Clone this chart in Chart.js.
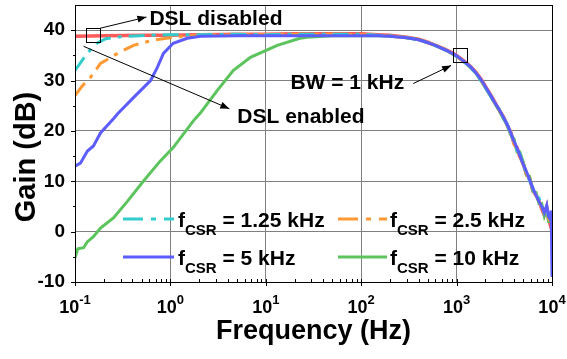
<!DOCTYPE html>
<html>
<head>
<meta charset="utf-8">
<script src="https://cdn.jsdelivr.net/npm/chart.js@4.4.1/dist/chart.umd.min.js"></script>
<style>
  html, body { margin: 0; padding: 0; background: #fff; }
</style>
</head>
<body>
<canvas id="gainChart" width="567" height="359"></canvas>
<script>
const FONT = "'Liberation Sans', Arial, sans-serif";

const decades = [0.1, 1, 10, 100, 1000, 10000];
const decadeExp = ['-1', '0', '1', '2', '3', '4'];
const gainTicks = [-10, 0, 10, 20, 30, 40];

// shared roll-off frequencies (Hz)
const fHigh = [150, 200, 300, 400, 500, 600, 700, 800, 900, 1000, 1100, 1250, 1400, 1600, 1800, 2000, 2250, 2500, 2800, 3100, 3400, 3700, 4000, 4300, 4600, 5000, 5400, 5800, 6300, 6800, 7300, 7800, 8300, 8800, 9200, 9600, 9800, 10000];

// DSL disabled
const fOffLow = [0.1, 0.2, 0.5, 1, 2, 5, 10, 20, 50, 100];
const gOffLow = [38.8, 38.9, 39.0, 39.0, 39.1, 39.2, 39.2, 39.3, 39.3, 39.3];
const gOffHigh = [39.1, 39.0, 38.6, 38.2, 37.6, 37.0, 36.5, 36.0, 35.5, 35.0, 34.4, 33.6, 32.8, 31.6, 30.3, 28.9, 27.3, 25.8, 24.1, 22.8, 21.1, 19.7, 17.5, 16.7, 14.9, 13.5, 11.3, 10.8, 8.1, 7.3, 6.1, 4.5, 3.3, 4.9, 2.5, 1.3, 3.1, 0.9];

// fCSR = 1.25 kHz
const f125Low = [0.1, 0.114, 0.135, 0.17, 0.21, 0.3, 0.6, 1, 2, 5, 10, 20, 50, 100];
const g125Low = [32.0, 33.5, 35.5, 37.4, 38.3, 38.7, 39.0, 39.1, 39.1, 39.2, 39.1, 39.2, 39.2, 39.2];
const g125High = [39.0, 38.9, 38.5, 38.1, 37.5, 36.9, 36.4, 35.9, 35.3, 34.8, 34.3, 33.4, 32.7, 31.4, 30.0, 28.6, 27.1, 25.6, 24.3, 22.5, 21.4, 19.3, 17.9, 16.1, 15.5, 12.9, 11.9, 10.1, 8.7, 6.7, 6.7, 5.3, 3.9, 4.5, 2.9, 2.1, 2.5, 1.5];

// fCSR = 2.5 kHz
const f25Low = [0.1, 0.12, 0.145, 0.185, 0.28, 0.41, 0.66, 1.07, 2, 5, 10, 20, 50, 100];
const g25Low = [27.0, 29.0, 30.6, 33.4, 35.4, 37.0, 38.0, 38.6, 39.0, 39.1, 39.1, 39.2, 39.2, 39.1];
const g25High = [39.0, 38.8, 38.5, 38.1, 37.5, 37.0, 36.4, 35.9, 35.4, 34.9, 34.2, 33.5, 32.6, 31.6, 30.1, 28.8, 27.1, 25.7, 24.1, 22.7, 21.2, 19.7, 17.3, 16.5, 14.7, 13.3, 11.5, 10.3, 8.5, 7.1, 6.3, 4.7, 3.7, 4.3, 2.7, 1.7, 2.1, 1.1];

// fCSR = 5 kHz
const f5Low = [0.1, 0.114, 0.135, 0.156, 0.185, 0.253, 0.28, 0.41, 0.62, 0.73, 0.845, 1.07, 1.5, 2.07, 5, 10, 20, 50, 100];
const g5Low = [13.0, 13.6, 16.0, 17.0, 19.6, 22.4, 23.4, 26.6, 30.0, 32.6, 35.4, 37.4, 38.4, 38.8, 38.9, 38.9, 38.9, 38.9, 38.9];
const g5High = [38.9, 38.8, 38.5, 38.1, 37.5, 37.0, 36.4, 35.9, 35.4, 34.9, 34.3, 33.5, 32.7, 31.5, 30.2, 28.8, 27.2, 25.7, 24.2, 22.7, 21.2, 19.6, 17.9, 16.6, 15.2, 13.3, 11.9, 10.4, 8.6, 7.2, 6.0, 5.0, 3.8, 5.2, 3.0, 2.4, 4.2, -9.0];

// fCSR = 10 kHz
const f10Low = [0.1, 0.107, 0.123, 0.135, 0.156, 0.185, 0.253, 0.354, 0.52, 0.78, 1.07, 1.74, 2.07, 3.09, 4.55, 6.9, 13.2, 22.8, 27, 50, 100];
const g10Low = [-5.2, -3.4, -3.2, -2.0, -1.0, 0.7, 2.7, 6.0, 10.0, 14.0, 16.7, 22.0, 23.6, 28.0, 32.0, 34.6, 37.0, 38.4, 38.6, 38.9, 38.9];
const g10High = [38.9, 38.8, 38.5, 38.1, 37.5, 37.0, 36.4, 35.9, 35.3, 34.8, 34.2, 33.4, 32.5, 31.4, 29.9, 28.6, 27.0, 25.5, 24.0, 22.4, 21.0, 19.2, 18.4, 15.8, 15.8, 13.8, 11.2, 11.0, 8.0, 7.8, 5.6, 5.6, 3.2, 4.8, 2.0, 2.0, 3.4, 0.4];

const legendItems = [
    { label: '1.25 kHz', color: '#33cccc', dash: [20, 8, 5, 8] },
    { label: '2.5 kHz', color: '#ff9933', dash: [20, 8, 5, 8] },
    { label: '5 kHz', color: '#5c5cff', dash: [] },
    { label: '10 kHz', color: '#5cc45c', dash: [] }
];

const points = (f, g) => f.map((v, i) => ({ x: v, y: g[i] }));
const bold = (size) => 'bold ' + size + 'px ' + FONT;

const arrow = (ctx, x1, y1, x2, y2) => {
    const ang = Math.atan2(y2 - y1, x2 - x1);
    ctx.beginPath();
    ctx.moveTo(x1, y1);
    ctx.lineTo(x2, y2);
    ctx.stroke();
    ctx.beginPath();
    ctx.moveTo(x2, y2);
    ctx.lineTo(x2 - 9 * Math.cos(ang) + 3.5 * Math.sin(ang), y2 - 9 * Math.sin(ang) - 3.5 * Math.cos(ang));
    ctx.lineTo(x2 - 9 * Math.cos(ang) - 3.5 * Math.sin(ang), y2 - 9 * Math.sin(ang) + 3.5 * Math.cos(ang));
    ctx.closePath();
    ctx.fill();
};

const decor = {
    id: 'decor',
    afterDraw: (chart) => {
        const { ctx, chartArea: a, scales: { x, y } } = chart;
        const px = (f) => x.getPixelForValue(f);
        const py = (g) => y.getPixelForValue(g);
        ctx.save();
        ctx.strokeStyle = '#000';
        ctx.fillStyle = '#000';
        ctx.lineWidth = 1;

        // frame
        ctx.strokeRect(a.left + 0.5, a.top + 0.5, a.right - a.left, a.bottom - a.top);

        // tick marks
        ctx.beginPath();
        decades.forEach((d, i) => {
            const xp = Math.round(px(d)) + 0.5;
            ctx.moveTo(xp, a.bottom - 3);
            ctx.lineTo(xp, a.bottom + 4);
            if (i < decades.length - 1) {
                for (let m = 2; m <= 9; m++) {
                    const xm = Math.round(px(d * m)) + 0.5;
                    ctx.moveTo(xm, a.bottom - 3);
                    ctx.lineTo(xm, a.bottom);
                }
            }
        });
        gainTicks.forEach((g) => {
            const yp = Math.round(py(g)) + 0.5;
            ctx.moveTo(a.left - 4, yp);
            ctx.lineTo(a.left, yp);
            if (g < 40) {
                const ym = Math.round(py(g + 5)) + 0.5;
                ctx.moveTo(a.left - 2, ym);
                ctx.lineTo(a.left, ym);
            }
        });
        ctx.stroke();

        // x tick labels 10^n
        ctx.textBaseline = 'alphabetic';
        ctx.textAlign = 'left';
        decades.forEach((d, i) => {
            ctx.font = bold(18);
            const wBase = ctx.measureText('10').width;
            ctx.font = bold(13);
            const wExp = ctx.measureText(decadeExp[i]).width;
            const x0 = px(d) - (wBase + wExp) / 2;
            ctx.font = bold(18);
            ctx.fillText('10', x0, a.bottom + 31);
            ctx.font = bold(13);
            ctx.fillText(decadeExp[i], x0 + wBase, a.bottom + 22);
        });

        // y title
        ctx.save();
        ctx.translate(27, 157);
        ctx.rotate(-Math.PI / 2);
        ctx.font = bold(29);
        ctx.textAlign = 'center';
        ctx.textBaseline = 'middle';
        ctx.fillText('Gain (dB)', 0, 0);
        ctx.restore();

        // annotations
        const box = (f, g) => ctx.strokeRect(Math.round(px(f)) - 7 + 0.5, Math.round(py(g)) - 7 + 0.5, 14, 14);
        box(0.156, 39);
        box(1090, 35);
        arrow(ctx, px(0.185), py(40.4), px(0.561), py(42.6));
        arrow(ctx, px(0.123), py(36.8), px(4.15), py(24.4));
        arrow(ctx, px(351), py(29.4), px(877), py(33.0));
        ctx.font = bold(21);
        ctx.fillText('DSL disabled', px(0.603), py(41.0));
        ctx.fillText('DSL enabled', px(5.03), py(21.6));
        ctx.fillText('BW = 1 kHz', px(18.1), py(28.4));

        // legend
        const cols = [[123, 174, 178], [338, 387, 390]];
        const rows = [227, 265];
        legendItems.forEach((it, i) => {
            const [s0, s1, tx] = cols[i % 2];
            const base = rows[Math.floor(i / 2)];
            ctx.save();
            ctx.strokeStyle = it.color;
            ctx.lineWidth = 3;
            ctx.setLineDash(it.dash);
            ctx.beginPath();
            ctx.moveTo(s0, base - 8);
            ctx.lineTo(s1, base - 8);
            ctx.stroke();
            ctx.restore();
            let xx = tx;
            ctx.font = bold(21);
            ctx.fillText('f', xx, base);
            xx += ctx.measureText('f').width;
            ctx.font = bold(15);
            ctx.fillText('CSR', xx, base + 8);
            xx += ctx.measureText('CSR').width;
            ctx.font = bold(21);
            ctx.fillText(' = ' + it.label, xx, base);
        });
        ctx.restore();
    }
};

const line = (data, color, width, dash) => ({
    data: data,
    borderColor: color,
    borderWidth: width,
    borderDash: dash,
    pointRadius: 0,
    fill: false,
    tension: 0
});

const noPad = (scale) => {
    scale.paddingTop = 0;
    scale.paddingBottom = 0;
    scale.paddingLeft = 0;
    scale.paddingRight = 0;
};

new Chart(document.getElementById('gainChart'), {
    type: 'line',
    data: {
        datasets: [
            line(points([...f5Low, ...fHigh], [...g5Low, ...g5High]), legendItems[2].color, 3, []),
            line(points([...f125Low, ...fHigh], [...g125Low, ...g125High]), legendItems[0].color, 3, [16, 7, 4, 7]),
            line(points([...f25Low, ...fHigh], [...g25Low, ...g25High]), legendItems[1].color, 3, [16, 7, 4, 7]),
            line(points([...f10Low, ...fHigh], [...g10Low, ...g10High]), legendItems[3].color, 3, []),
            line(points([...fOffLow, ...fHigh], [...gOffLow, ...gOffHigh]), '#ff5a5a', 3.5, [])
        ]
    },
    options: {
        responsive: false,
        animation: false,
        layout: { padding: { top: 5, right: 15, left: 0, bottom: 0 } },
        plugins: { legend: { display: false }, tooltip: { enabled: false } },
        scales: {
            x: {
                type: 'logarithmic',
                min: 0.1,
                max: 10000,
                afterBuildTicks: (scale) => { scale.ticks = decades.map((v) => ({ value: v })); },
                afterFit: (scale) => { scale.height = 77; noPad(scale); },
                ticks: { display: false },
                grid: { color: '#808080', lineWidth: 1, drawTicks: false },
                border: { color: '#000' },
                title: {
                    display: true,
                    text: 'Frequency (Hz)',
                    color: '#000',
                    font: { family: FONT, size: 27, weight: 'bold' },
                    padding: { top: 0, bottom: 11 }
                }
            },
            y: {
                min: -10,
                max: 45,
                afterBuildTicks: (scale) => { scale.ticks = gainTicks.map((v) => ({ value: v })); },
                afterFit: (scale) => { scale.width = 75; noPad(scale); },
                ticks: { color: '#000', padding: 10, font: { family: FONT, size: 19, weight: 'bold' } },
                grid: { color: '#808080', lineWidth: 1, drawTicks: false },
                border: { color: '#000' }
            }
        }
    },
    plugins: [decor]
});
</script>
</body>
</html>
